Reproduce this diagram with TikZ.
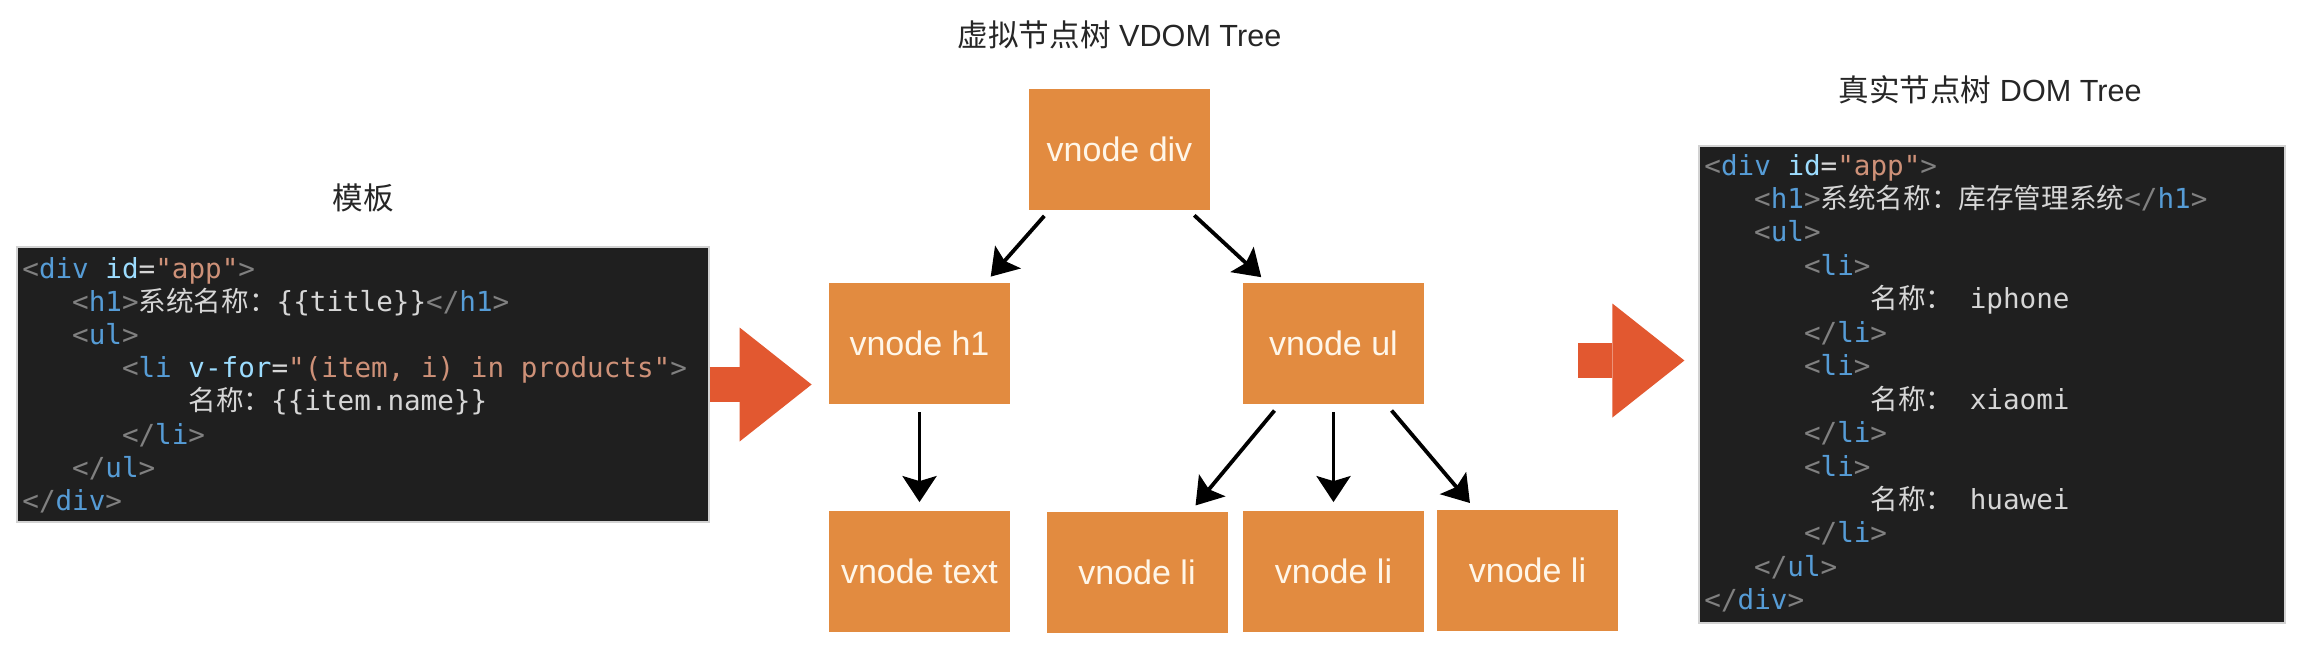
\documentclass[tikz,border=0pt]{standalone}
\usepackage{fontspec}
\usetikzlibrary{arrows.meta}

\newfontfamily\cjk{Noto Sans CJK SC}
\newfontfamily\codefont{DejaVu Sans Mono}
\newfontfamily\labelfont{Liberation Sans}

\definecolor{vnodefill}{RGB}{226,139,64}
\definecolor{vnodetext}{RGB}{255,246,232}
\definecolor{arrowred}{RGB}{226,88,48}
\definecolor{codebg}{RGB}{31,31,31}
\definecolor{punc}{RGB}{128,128,128}
\definecolor{tagname}{RGB}{86,156,214}
\definecolor{attr}{RGB}{156,220,254}
\definecolor{str}{RGB}{206,145,120}
\definecolor{plain}{RGB}{214,214,214}

\newcommand{\otag}[1]{\textcolor{punc}{<}\textcolor{tagname}{#1}\textcolor{punc}{>}}
\newcommand{\ctag}[1]{\textcolor{punc}{</}\textcolor{tagname}{#1}\textcolor{punc}{>}}

\tikzset{
  vnode/.style={fill=vnodefill, text=vnodetext, inner sep=0pt,
    minimum width=90.5pt, minimum height=60.5pt,
    font=\labelfont\fontsize{17}{20}\selectfont},
  codebox/.style={fill=codebg, draw=gray!35, line width=0.6pt, inner sep=0pt},
  codeline/.style={anchor=base west, inner sep=0pt, text=plain,
    font=\codefont\fontsize{13.8}{16}\selectfont},
  heading/.style={text=black!85, font=\labelfont\fontsize{15.3}{18}\selectfont},
  treearrow/.style={-{Stealth[length=13pt,width=17pt,inset=2.5pt]}, line width=1.9pt,
    shorten <=4pt, shorten >=4pt},
  bigarrow/.style={-{Triangle[length=36pt,width=57pt,line width=0pt]},
    line width=17.5pt, draw=arrowred}
}

\begin{document}
\begin{tikzpicture}[x=0.5pt, y=-0.5pt]
  \fill[white] (0,0) rectangle (2312,650);
  \useasboundingbox (0,0) rectangle (2312,650);

  % template
  \node[heading] (tpltitle) at (363,198) {{\cjk 模板}};
  \node[codebox, minimum width=346pt, minimum height=137.5pt] (tpl) at (363,384.5) {};
  \node[codeline] (t1) at (22,278) {\textcolor{punc}{<}\textcolor{tagname}{div} \textcolor{attr}{id}=\textcolor{str}{"app"}\textcolor{punc}{>}};
  \node[codeline] (t2) at (71.8,311.2) {\otag{h1}{\cjk 系统名称：}\{\{title\}\}\ctag{h1}};
  \node[codeline] (t3) at (71.8,344.4) {\otag{ul}};
  \node[codeline] (t4) at (121.6,377.6) {\textcolor{punc}{<}\textcolor{tagname}{li} \textcolor{attr}{v-for}=\textcolor{str}{"(item, i) in products"}\textcolor{punc}{>}};
  \node[codeline] (t5) at (188,410.8) {{\cjk 名称：}\{\{item.name\}\}};
  \node[codeline] (t6) at (121.6,444) {\ctag{li}};
  \node[codeline] (t7) at (71.8,477.2) {\ctag{ul}};
  \node[codeline] (t8) at (22,510.4) {\ctag{div}};

  % virtual dom tree
  \node[heading] (vtitle) at (1119.5,35) {{\cjk 虚拟节点树} VDOM Tree};
  \node[vnode] (vdiv) at (1119.5,149) {vnode div};
  \node[vnode] (vh1) at (919.5,343.5) {vnode h1};
  \node[vnode] (vul) at (1333.5,343.5) {vnode ul};
  \node[vnode] (vtext) at (919.5,571) {vnode text};
  \node[vnode] (vli1) at (1137,572.5) {vnode li};
  \node[vnode] (vli2) at (1333.5,571) {vnode li};
  \node[vnode] (vli3) at (1527.5,570) {vnode li};

  \draw[treearrow] ([shift={(21,0)}]vdiv.south west) -- ([shift={(-25,0)}]vh1.north east);
  \draw[treearrow] ([shift={(-22,0)}]vdiv.south east) -- ([shift={(24.5,0)}]vul.north west);
  \draw[treearrow] (vh1.south) -- (vtext.north);
  \draw[treearrow] ([shift={(37,0)}]vul.south west) -- ([shift={(-37.5,0)}]vli1.north east);
  \draw[treearrow] (vul.south) -- (vli2.north);
  \draw[treearrow] ([shift={(-38,0)}]vul.south east) -- ([shift={(38.5,0)}]vli3.north west);

  % real dom
  \node[heading] (domtitle) at (1990,90) {{\cjk 真实节点树} DOM Tree};
  \node[codebox, minimum width=293pt, minimum height=238.5pt] (dom) at (1992,384.5) {};
  \node[codeline] (d1) at (1704,175) {\textcolor{punc}{<}\textcolor{tagname}{div} \textcolor{attr}{id}=\textcolor{str}{"app"}\textcolor{punc}{>}};
  \node[codeline] (d2) at (1753.8,208.45) {\otag{h1}{\cjk 系统名称：库存管理系统}\ctag{h1}};
  \node[codeline] (d3) at (1753.8,241.9) {\otag{ul}};
  \foreach \phone [count=\i] in {iphone,xiaomi,huawei} {
    \pgfmathsetmacro{\yo}{275.35+100.35*(\i-1)}
    \node[codeline] (dli\i) at (1803.6,\yo) {\otag{li}};
    \node[codeline] (dname\i) at (1870,\yo+33.45) {{\cjk 名称：} \phone};
    \node[codeline] (dend\i) at (1803.6,\yo+66.9) {\ctag{li}};
  }
  \node[codeline] (d13) at (1753.8,576.4) {\ctag{ul}};
  \node[codeline] (d14) at (1704,609.85) {\ctag{div}};

  % big arrows
  \draw[bigarrow, shorten >=8.5pt] (tpl.east) -- (tpl.east -| vh1.west);
  \coordinate (rstart) at (1578,360.5);
  \draw[bigarrow, shorten >=7pt] (rstart) -- (rstart -| dom.west);
\end{tikzpicture}
\end{document}
